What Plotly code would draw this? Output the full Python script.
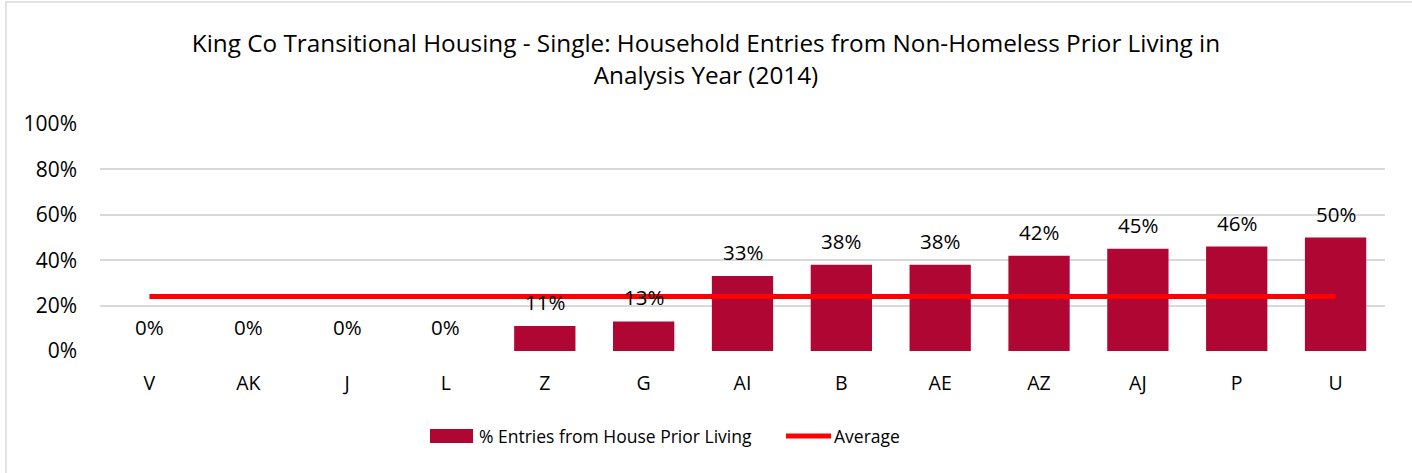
import plotly.graph_objects as go

categories = ["V", "AK", "J", "L", "Z", "G", "AI", "B", "AE", "AZ", "AJ", "P", "U"]
pct_entries = [0.0, 0.0, 0.0, 0.0, 0.11, 0.13, 0.33, 0.38, 0.38, 0.42, 0.45, 0.46, 0.50]
average_val = 0.24
average = [average_val] * len(categories)
y_ticks = [0, 0.2, 0.4, 0.6, 0.8, 1.0]
bar_name = "% Entries from House Prior Living"
line_name = "Average"
title_text = ("King Co Transitional Housing - Single: Household Entries from Non-Homeless Prior Living in"
              "<br>Analysis Year (2014)")

FONT = "'Open Sans', sans-serif"
BAR_COLOR = "#B00633"
LINE_COLOR = "#FF0000"
W, H = 1412, 473
L, R, T, B = 100, 27, 124, 122
PW, PH = W - L - R, H - T - B


def px_x(x):
    return (x - L) / PW


def px_y(y):
    return (H - B - y) / PH


fig = go.Figure()
fig.add_trace(go.Bar(
    x=categories, y=pct_entries, name=bar_name,
    marker=dict(color=BAR_COLOR, line=dict(width=0)),
    showlegend=False,
))
fig.add_trace(go.Scatter(
    x=categories, y=average, name=line_name, mode="lines",
    line=dict(color=LINE_COLOR, width=5), showlegend=False,
))

for c, v in zip(categories, pct_entries):
    fig.add_annotation(x=c, y=v, text=f"{round(v*100)}%", showarrow=False,
                       yshift=24, font=dict(size=20.5, color="#000000", family=FONT))

# chart border
fig.add_shape(type="rect", xref="paper", yref="paper",
              x0=px_x(6), x1=px_x(1420), y0=px_y(480), y1=px_y(2),
              line=dict(color="#D9D9D9", width=1.5))

# legend
fig.add_shape(type="rect", xref="paper", yref="paper",
              x0=px_x(430), x1=px_x(473), y0=px_y(443), y1=px_y(429),
              line=dict(width=0), fillcolor=BAR_COLOR)
fig.add_annotation(xref="paper", yref="paper", x=px_x(477), y=px_y(436),
                   xanchor="left", yanchor="middle", showarrow=False, text=bar_name,
                   font=dict(size=17.5, family=FONT, color="#000000"))
fig.add_shape(type="line", xref="paper", yref="paper",
              x0=px_x(786), x1=px_x(831), y0=px_y(436), y1=px_y(436),
              line=dict(color=LINE_COLOR, width=5))
fig.add_annotation(xref="paper", yref="paper", x=px_x(832), y=px_y(436),
                   xanchor="left", yanchor="middle", showarrow=False, text=line_name,
                   font=dict(size=17.5, family=FONT, color="#000000"))

fig.update_layout(
    width=W, height=H,
    margin=dict(l=L, r=R, t=T, b=B),
    paper_bgcolor="white", plot_bgcolor="white",
    font=dict(family=FONT, color="#000000"),
    title=dict(text=title_text, x=0.5, xanchor="center", y=1 - 52 / H, yanchor="top",
               font=dict(size=24.3, family=FONT, color="#000000")),
    bargap=0.38,
    showlegend=False,
    xaxis=dict(showgrid=False, showline=False, ticks="", tickfont=dict(size=19.5),
               ticklabelstandoff=18),
    yaxis=dict(range=[0, 1], tickvals=y_ticks, tickformat=".0%",
               gridcolor="#D9D9D9", gridwidth=1.5, zeroline=False, showline=False,
               tickfont=dict(size=21), ticklabelstandoff=22),
)

fig.write_html("out.html", config={"displayModeBar": False},
               post_script="document.body.style.margin='0';")
